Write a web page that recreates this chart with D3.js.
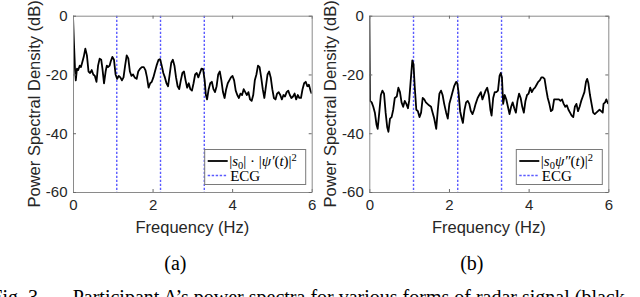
<!DOCTYPE html>
<html>
<head>
<meta charset="utf-8">
<script src="https://cdn.jsdelivr.net/npm/d3@7"></script>
<style>
  body { margin: 0; background: #fff; }
  svg { display: block; }
  .tick text { font-family: "Liberation Sans", Arial, sans-serif; font-size: 15px; fill: #262626; }
</style>
</head>
<body>
<script>
// power spectra, two panels

var xTicks = [0, 2, 4, 6];
var yTicks = [0, -20, -40, -60];
var panelLabels = ['(a)', '(b)'];

var ecgFreqA = [1.1, 2.2, 3.3];
var ecgFreqB = [1.11, 2.22, 3.32];

// panel (a) |s0|.|psi'(t)|^2
var freqA = [0, 0.02, 0.05, 0.07, 0.10, 0.13, 0.17, 0.20, 0.23, 0.27, 0.31, 0.35, 0.39, 0.43, 0.47, 0.51, 0.55, 0.59,
  0.63, 0.67, 0.71, 0.74, 0.78, 0.82, 0.85, 0.88, 0.92, 0.95, 0.99, 1.03, 1.07, 1.11, 1.15, 1.19, 1.23, 1.27, 1.31,
  1.35, 1.39, 1.43, 1.47, 1.51, 1.55, 1.60, 1.64, 1.69, 1.73, 1.78, 1.82, 1.86, 1.90, 1.94, 1.98, 2.02, 2.06, 2.10,
  2.15, 2.19, 2.23, 2.27, 2.31, 2.35, 2.39, 2.43, 2.47, 2.51, 2.55, 2.59, 2.63, 2.67, 2.71, 2.75, 2.79, 2.83, 2.87,
  2.91, 2.95, 2.99, 3.03, 3.07, 3.11, 3.15, 3.19, 3.23, 3.27, 3.31, 3.34, 3.37, 3.41, 3.45, 3.49, 3.53, 3.57, 3.61,
  3.65, 3.69, 3.73, 3.77, 3.81, 3.85, 3.89, 3.93, 3.97, 4.01, 4.05, 4.09, 4.13, 4.17, 4.21, 4.25, 4.29, 4.33, 4.37,
  4.41, 4.45, 4.49, 4.53, 4.57, 4.61, 4.65, 4.69, 4.73, 4.77, 4.81, 4.85, 4.89, 4.93, 4.97, 5.01, 5.05, 5.09, 5.13,
  5.17, 5.21, 5.25, 5.29, 5.33, 5.37, 5.41, 5.45, 5.49, 5.53, 5.57, 5.61, 5.65, 5.69, 5.73, 5.77, 5.81, 5.85, 5.89,
  5.93, 5.97, 6.00];
var psdA = [0, -8, -18, -22, -18, -18.5, -17, -17.5, -16, -14, -11.2, -13.5, -19, -19.5, -18.5, -20, -20.5, -22.5,
  -17, -14.6, -15, -18, -23, -19, -17, -17.5, -17, -15.5, -14, -15, -20, -21.5, -20.5, -21, -22, -21, -17,
  -13.5, -14.5, -19, -20.5, -20, -21, -21.5, -19, -18, -17.5, -17.5, -18.5, -21, -24.5, -23, -22.5, -21, -19, -17,
  -15, -14.8, -17, -19.5, -21, -23, -24, -20, -16, -15, -17, -21, -24, -25, -22, -19.5, -19, -22, -24.5,
  -23, -25, -25.5, -23, -20, -19.5, -21, -19.5, -18, -18.2, -22, -27, -28.5, -25, -23, -22.5, -25, -26, -24,
  -20, -19, -22, -26, -28, -25, -23, -22, -21, -20.5, -22, -25.5, -27, -28, -26.5, -27, -25, -26, -27,
  -26, -28.5, -29, -27, -22, -20, -17, -17.5, -21, -25, -28, -24, -20, -19, -21, -25, -28, -28.5, -26.5,
  -26, -27, -28.5, -27, -27.5, -26, -25.5, -27, -28, -27.5, -26.5, -28.5, -27, -28, -28, -25, -23, -22.5, -24,
  -23.5, -25.5, -26.5];

// panel (b) |s0 psi''(t)|^2
var freqB = [0, 0.01, 0.02, 0.06, 0.10, 0.14, 0.18, 0.21, 0.25, 0.29, 0.33, 0.37, 0.41, 0.45, 0.48, 0.52, 0.56, 0.60,
  0.64, 0.69, 0.73, 0.77, 0.81, 0.85, 0.89, 0.93, 0.97, 1.00, 1.04, 1.08, 1.11, 1.14, 1.18, 1.22, 1.26, 1.30, 1.34,
  1.38, 1.42, 1.46, 1.50, 1.55, 1.59, 1.63, 1.68, 1.72, 1.76, 1.80, 1.84, 1.88, 1.93, 1.97, 2.01, 2.05, 2.09, 2.13,
  2.18, 2.21, 2.24, 2.28, 2.32, 2.35, 2.39, 2.43, 2.47, 2.51, 2.55, 2.59, 2.63, 2.67, 2.72, 2.76, 2.80, 2.84, 2.88,
  2.92, 2.96, 3.00, 3.04, 3.07, 3.11, 3.15, 3.19, 3.23, 3.27, 3.30, 3.33, 3.36, 3.40, 3.44, 3.48, 3.52, 3.56, 3.60,
  3.64, 3.68, 3.72, 3.76, 3.80, 3.84, 3.88, 3.92, 3.96, 4.00, 4.04, 4.08, 4.12, 4.16, 4.20, 4.24, 4.28, 4.32, 4.36,
  4.40, 4.44, 4.48, 4.52, 4.56, 4.60, 4.64, 4.68, 4.72, 4.76, 4.80, 4.84, 4.88, 4.92, 4.96, 5.00, 5.04, 5.08, 5.12,
  5.16, 5.20, 5.24, 5.28, 5.32, 5.36, 5.40, 5.44, 5.47, 5.50, 5.54, 5.58, 5.62, 5.66, 5.70, 5.74, 5.78, 5.82, 5.86,
  5.88, 5.92, 5.95, 5.98, 6.00];
var psdB = [0, -15, -29, -29.5, -31, -33, -37, -38.5, -33, -27, -25.5, -26.5, -33, -38, -39.5, -35, -34.5, -32,
  -28, -27.5, -24.5, -26, -29.5, -31, -29, -30, -31.5, -29, -22, -15.2, -16.5, -24, -32, -32.5, -34.5, -33, -28,
  -28.5, -29.5, -30, -30.5, -31, -33, -35, -38.5, -32, -26.5, -25.5, -27, -30, -33, -35, -30, -28, -26, -24,
  -22.5, -23, -26, -32.5, -35, -36.5, -32, -29.5, -29, -30, -32.5, -33.5, -32, -30, -28, -27, -26, -28.5, -27,
  -25.5, -24.5, -27, -32, -34, -28, -26, -26, -25.5, -20.5, -19.5, -21, -30, -27, -28.5, -31, -33.5, -31, -29.5,
  -31.5, -33, -29, -26.5, -28, -31, -33, -29, -27, -26.5, -24.5, -26, -25, -24.5, -23.5, -22.5, -22, -21, -21,
  -21.5, -25, -28, -30, -32.5, -32, -28.5, -28.5, -28.5, -28.5, -29, -28.5, -30, -31, -30.5, -32, -33, -34, -34.5,
  -31, -30, -32.5, -31, -29, -27.5, -26, -22.5, -21.5, -23, -27, -30, -33, -33.5, -33, -32.5, -32, -32.5, -33,
  -30, -29.5, -28.5, -29.5, -30];

var svg = d3.select('body').append('svg')
  .attr('width', 640)
  .attr('height', 297)
  .style('background', '#fff');

var panels = [
  {left: 73, right: 311.7, freq: freqA, psd: psdA, ecg: ecgFreqA, legendW: 101, legendKey: 'a'},
  {left: 369.3, right: 608.3, freq: freqB, psd: psdB, ecg: ecgFreqB, legendW: 86, legendKey: 'b'}
];
var plotTop = 15.7, plotBottom = 192;

var drawPanel = function(p, i) {
  var x = d3.scaleLinear().domain([0, 6]).range([p.left, p.right]);
  var y = d3.scaleLinear().domain([-60, 0]).range([plotBottom, plotTop]);
  var g = svg.append('g');

  g.append('clipPath').attr('id', 'clip' + i)
    .append('rect')
    .attr('x', p.left).attr('y', plotTop)
    .attr('width', p.right - p.left).attr('height', plotBottom - plotTop);

  // ECG reference lines
  g.selectAll('line.ecg').data(p.ecg)
    .enter().append('line')
    .attr('class', 'ecg')
    .attr('x1', function(d) { return x(d); })
    .attr('x2', function(d) { return x(d); })
    .attr('y1', plotTop).attr('y2', plotBottom)
    .attr('stroke', '#5a5aff')
    .attr('stroke-width', 1.4)
    .attr('stroke-dasharray', '2.4,1.6');

  var line = d3.line()
    .x(function(d, j) { return x(p.freq[j]); })
    .y(function(d) { return y(d); });

  g.append('path')
    .datum(p.psd)
    .attr('d', line)
    .attr('clip-path', 'url(#clip' + i + ')')
    .attr('fill', 'none')
    .attr('stroke', '#000')
    .attr('stroke-width', 1.8)
    .attr('stroke-linejoin', 'round');

  // axes, ticks pointing in
  var axB = g.append('g').attr('transform', 'translate(0,' + plotBottom + ')')
    .call(d3.axisBottom(x).tickValues(xTicks).tickSize(-3).tickSizeOuter(0).tickPadding(7).tickFormat(d3.format('d')));
  var axT = g.append('g').attr('transform', 'translate(0,' + plotTop + ')')
    .call(d3.axisTop(x).tickValues(xTicks).tickSize(-3).tickSizeOuter(0).tickFormat(''));
  var axL = g.append('g').attr('transform', 'translate(' + p.left + ',0)')
    .call(d3.axisLeft(y).tickValues(yTicks).tickSize(-3).tickSizeOuter(0).tickPadding(5.5)
      .tickFormat(function(d) { return d < 0 ? '-' + Math.abs(d) : String(d); }));
  var axR = g.append('g').attr('transform', 'translate(' + p.right + ',0)')
    .call(d3.axisRight(y).tickValues(yTicks).tickSize(-3).tickSizeOuter(0).tickFormat(''));
  [axB, axT, axL, axR].forEach(function(a) {
    a.select('.domain').attr('stroke', '#8a8a8a');
    a.selectAll('.tick line').attr('stroke', '#6a6a6a');
  });

  // legend
  var lx = p.right - 6 - p.legendW, ly = 149.5, lh = 35;
  var leg = g.append('g');
  leg.append('rect')
    .attr('x', lx).attr('y', ly).attr('width', p.legendW).attr('height', lh)
    .attr('fill', '#fff').attr('stroke', '#7a7a7a').attr('stroke-width', 1);
  leg.append('line')
    .attr('x1', lx + 3).attr('x2', lx + 23).attr('y1', ly + 11.5).attr('y2', ly + 11.5)
    .attr('stroke', '#000').attr('stroke-width', 1.8);
  leg.append('line')
    .attr('x1', lx + 3).attr('x2', lx + 23).attr('y1', ly + 26).attr('y2', ly + 26)
    .attr('stroke', '#5a5aff').attr('stroke-width', 1.3).attr('stroke-dasharray', '2.4,1.6');

  var t = leg.append('text')
    .attr('x', lx + 24.5).attr('y', ly + 16.5)
    .style('font-family', '"Liberation Serif", "Times New Roman", serif')
    .style('font-size', '15px')
    .attr('fill', '#000');
  if (p.legendKey === 'a') {
    t.append('tspan').text('|');
    t.append('tspan').style('font-style', 'italic').text('s');
    t.append('tspan').attr('dy', 3).style('font-size', '10.5px').text('0');
    t.append('tspan').attr('dy', -3).text('| \u00b7 |');
    t.append('tspan').style('font-style', 'italic').text('\u03c8\u2032');
    t.append('tspan').text('(');
    t.append('tspan').style('font-style', 'italic').text('t');
    t.append('tspan').text(')|');
    t.append('tspan').attr('dy', -5.5).style('font-size', '10.5px').text('2');
  } else {
    t.append('tspan').text('|');
    t.append('tspan').style('font-style', 'italic').text('s');
    t.append('tspan').attr('dy', 3).style('font-size', '10.5px').text('0');
    t.append('tspan').attr('dy', -3).style('font-style', 'italic').text('\u03c8\u2033');
    t.append('tspan').text('(');
    t.append('tspan').style('font-style', 'italic').text('t');
    t.append('tspan').text(')|');
    t.append('tspan').attr('dy', -5.5).style('font-size', '10.5px').text('2');
  }
  leg.append('text')
    .attr('x', lx + 25.5).attr('y', ly + 31)
    .style('font-family', '"Liberation Serif", "Times New Roman", serif')
    .style('font-size', '15px')
    .text('ECG');

  // labels
  g.append('text')
    .attr('x', (p.left + p.right) / 2).attr('y', 233)
    .attr('text-anchor', 'middle')
    .style('font-family', '"Liberation Sans", Arial, sans-serif')
    .style('font-size', '16.5px').attr('fill', '#262626')
    .text('Frequency (Hz)');
  g.append('text')
    .attr('transform', 'translate(' + (p.left - 33.5) + ',' + ((plotTop + plotBottom) / 2) + ') rotate(-90)')
    .attr('text-anchor', 'middle')
    .style('font-family', '"Liberation Sans", Arial, sans-serif')
    .style('font-size', '16.5px').attr('fill', '#262626')
    .text('Power Spectral Density (dB)');
  g.append('text')
    .attr('x', (p.left + p.right) / 2 - 17).attr('y', 270)
    .attr('text-anchor', 'middle')
    .style('font-family', '"Liberation Serif", "Times New Roman", serif')
    .style('font-size', '20px')
    .text(panelLabels[i]);
}

panels.forEach(drawPanel);

// figure caption, cut off at the bottom
svg.append('text')
  .attr('x', 43).attr('y', 303.5)
  .attr('text-anchor', 'end')
  .style('font-family', '"Liberation Serif", "Times New Roman", serif')
  .style('font-size', '20px')
  .text('Fig. 3.');
svg.append('text')
  .attr('x', 72.7).attr('y', 303.5)
  .style('font-family', '"Liberation Serif", "Times New Roman", serif')
  .style('font-size', '20px')
  .text('Participant A\u2019s power spectra for various forms of radar signal (black');
</script>
</body>
</html>
